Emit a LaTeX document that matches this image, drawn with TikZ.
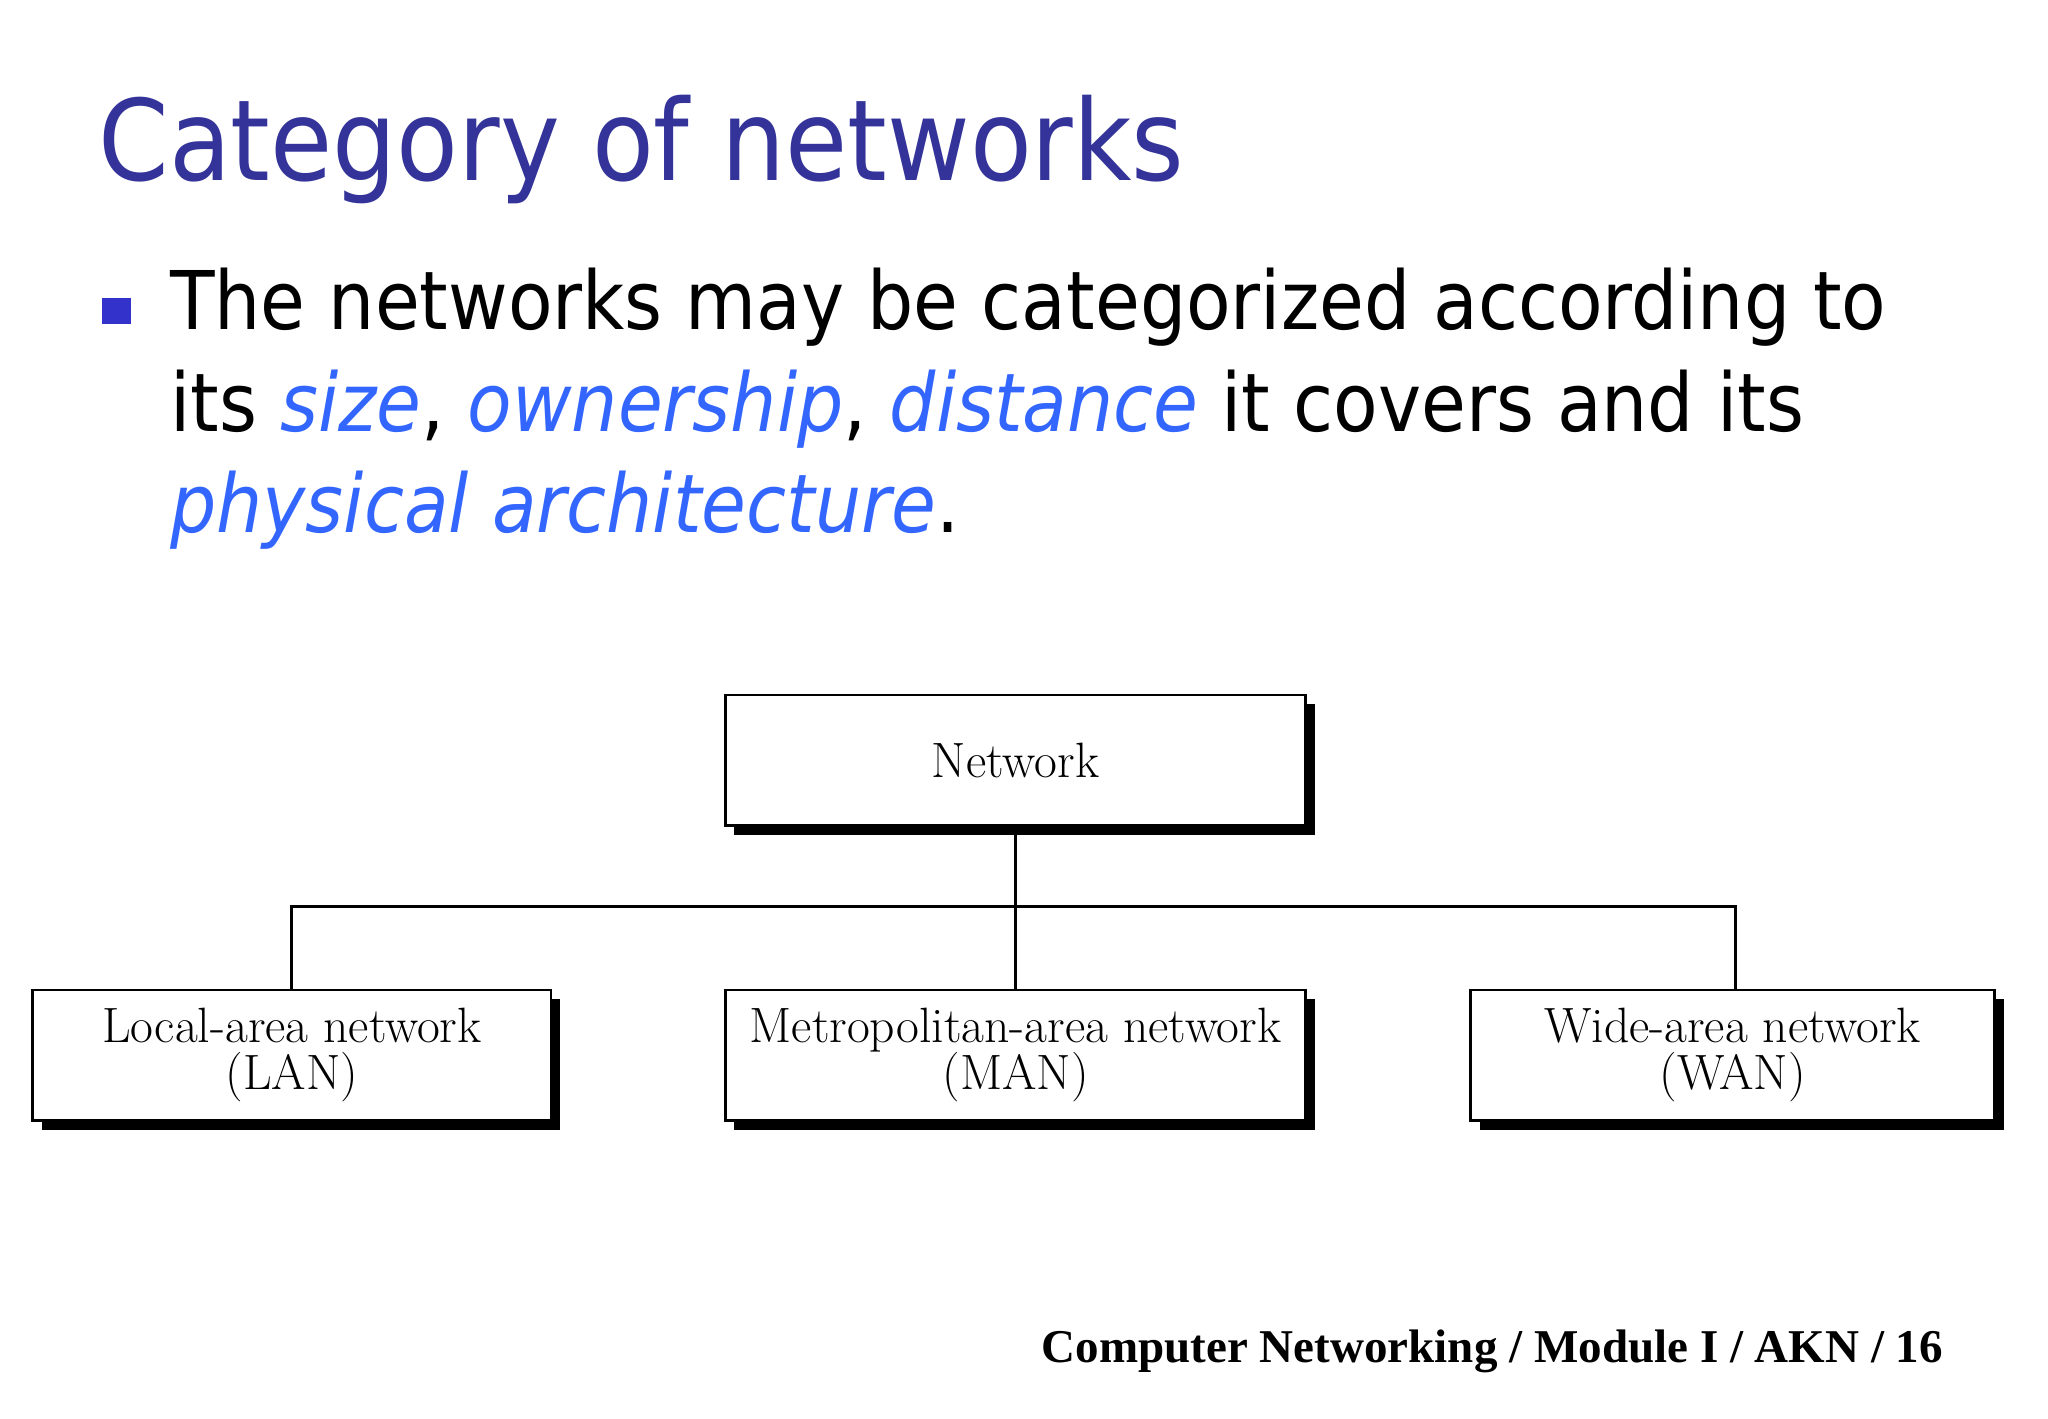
\documentclass[tikz,border=0pt]{standalone}
\usepackage{fontspec}
\setmainfont{DejaVu Sans Condensed}
\newfontfamily\lm{Latin Modern Roman}
\newfontfamily\tnr{Liberation Serif}
\definecolor{titleblue}{HTML}{333399}
\definecolor{hl}{HTML}{3366FF}
\definecolor{bul}{HTML}{3333CC}
\begin{document}
\begin{tikzpicture}[x=0.5pt,y=-0.5pt,
  box/.style={draw=black,fill=white,line width=1pt,minimum width=222pt,minimum height=50pt,font=\lm\fontsize{19}{18}\selectfont,align=center,inner sep=0pt},
  link/.style={line width=1.2pt}]
\useasboundingbox (0,0) rectangle (1568,1086);
\fill[white] (0,0) rectangle (1568,1086);
\node[anchor=base west,inner sep=0pt,text=titleblue,font=\fontsize{43}{50}\selectfont] (title) at (75,138) {Category of networks};
\fill[bul] (78,228) rectangle (100,248);
\node[anchor=base west,inner sep=0pt,font=\fontsize{31}{39}\selectfont,align=left] (l1) at (130,252) {The networks may be categorized according to};
\node[anchor=base west,inner sep=0pt,font=\fontsize{31}{39}\selectfont] (l2) at (130,330) {its \textcolor{hl}{\itshape size}, \textcolor{hl}{\itshape ownership}, \textcolor{hl}{\itshape distance} it covers and its};
\node[anchor=base west,inner sep=0pt,font=\fontsize{31}{39}\selectfont] (l3) at (130,408) {\textcolor{hl}{\itshape physical architecture}.};
% shadows
\fill[black] (562,539) rectangle (1007,639);
\fill[black] (32,765) rectangle (429,865);
\fill[black] (562,765) rectangle (1007,865);
\fill[black] (1133,765) rectangle (1534,865);
\node[box] (net) at (777.5,582) {Network};
\node[box,minimum width=198.5pt] (lan) at (223.5,808) {Local-area network\\(LAN)};
\node[box] (man) at (777.5,808) {Metropolitan-area network\\(MAN)};
\node[box,minimum width=200.5pt] (wan) at (1326.5,808) {Wide-area network\\(WAN)};
\coordinate (j) at (777,694);
\draw[link] (net.south) -- (man.north);
\draw[link] (lan.north -| 223,0) |- (j) -| (wan.north -| 1329,0);
\node[anchor=base east,inner sep=0pt,font=\tnr\bfseries\fontsize{18}{20}\selectfont] (foot) at (1488,1043) {Computer Networking / Module I / AKN / 16};
\end{tikzpicture}
\end{document}
